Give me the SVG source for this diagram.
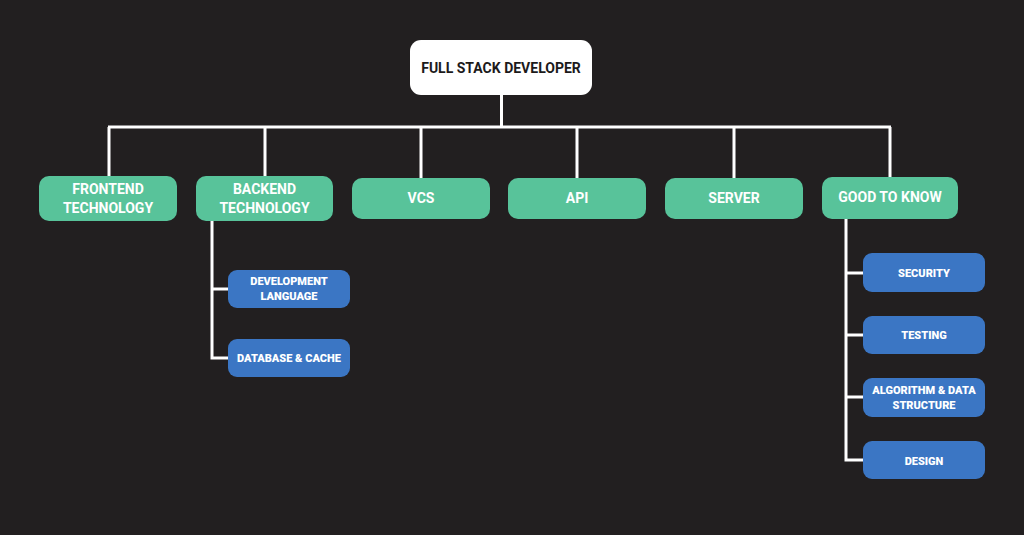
<svg xmlns="http://www.w3.org/2000/svg" width="1024" height="535" viewBox="0 0 1024 535">
<style>
.root{fill:#ffffff}
.g{fill:#58c39a}
.b{fill:#3b76c4}
.t{font-family:Roboto,"Liberation Sans",sans-serif;font-weight:700;text-anchor:middle;dominant-baseline:central}
.tr{fill:#1c1a1b;font-size:14px}
.tg{fill:#ffffff;font-size:14px}
.tb{fill:#ffffff;font-size:11px;font-weight:900}
.c{fill:none;stroke:#ffffff;stroke-width:3}
</style>
<rect width="1024" height="535" fill="#221f20"/>
<g id="connectors">
<path class="c" d="M501.5 95V127M108 127H891M109 127V176M265 127V176M421 127V178M577 127V178M734 127V178M890 127V178"/>
<path class="c" d="M212 221V358H229M212 289H229"/>
<path class="c" d="M846 219V460H864M846 273H864M846 335H864M846 397H864"/>
</g>
<g id="root"><rect class="root" x="410" y="40" width="182" height="55" rx="11"/><text class="t tr" x="501" y="68">FULL STACK DEVELOPER</text></g>
<g id="frontend"><rect class="g" x="39" y="176" width="138" height="45" rx="10"/><text class="t tg" x="108" y="189">FRONTEND</text><text class="t tg" x="108" y="208">TECHNOLOGY</text></g>
<g id="backend"><rect class="g" x="196" y="176" width="137" height="45" rx="10"/><text class="t tg" x="264.5" y="189">BACKEND</text><text class="t tg" x="264.5" y="208">TECHNOLOGY</text></g>
<g id="vcs"><rect class="g" x="352" y="178" width="138" height="41" rx="10"/><text class="t tg" x="421" y="198">VCS</text></g>
<g id="api"><rect class="g" x="508" y="178" width="138" height="41" rx="10"/><text class="t tg" x="577" y="198">API</text></g>
<g id="server"><rect class="g" x="665" y="178" width="138" height="41" rx="10"/><text class="t tg" x="734" y="198">SERVER</text></g>
<g id="goodtoknow"><rect class="g" x="822" y="177" width="136" height="42" rx="10"/><text class="t tg" x="890" y="197">GOOD TO KNOW</text></g>
<g id="devlang"><rect class="b" x="228" y="270" width="122" height="38" rx="9"/><text class="t tb" x="289" y="281">DEVELOPMENT</text><text class="t tb" x="289" y="296.5">LANGUAGE</text></g>
<g id="database"><rect class="b" x="228" y="339" width="122" height="38" rx="9"/><text class="t tb" x="289" y="358">DATABASE &amp; CACHE</text></g>
<g id="security"><rect class="b" x="863" y="253" width="122" height="39" rx="9"/><text class="t tb" x="924" y="273">SECURITY</text></g>
<g id="testing"><rect class="b" x="863" y="316" width="122" height="38" rx="9"/><text class="t tb" x="924" y="335.5">TESTING</text></g>
<g id="algorithm"><rect class="b" x="863" y="378" width="122" height="39" rx="9"/><text class="t tb" x="924" y="390">ALGORITHM &amp; DATA</text><text class="t tb" x="924" y="405">STRUCTURE</text></g>
<g id="design"><rect class="b" x="863" y="441" width="122" height="38" rx="9"/><text class="t tb" x="924" y="461">DESIGN</text></g>
</svg>
